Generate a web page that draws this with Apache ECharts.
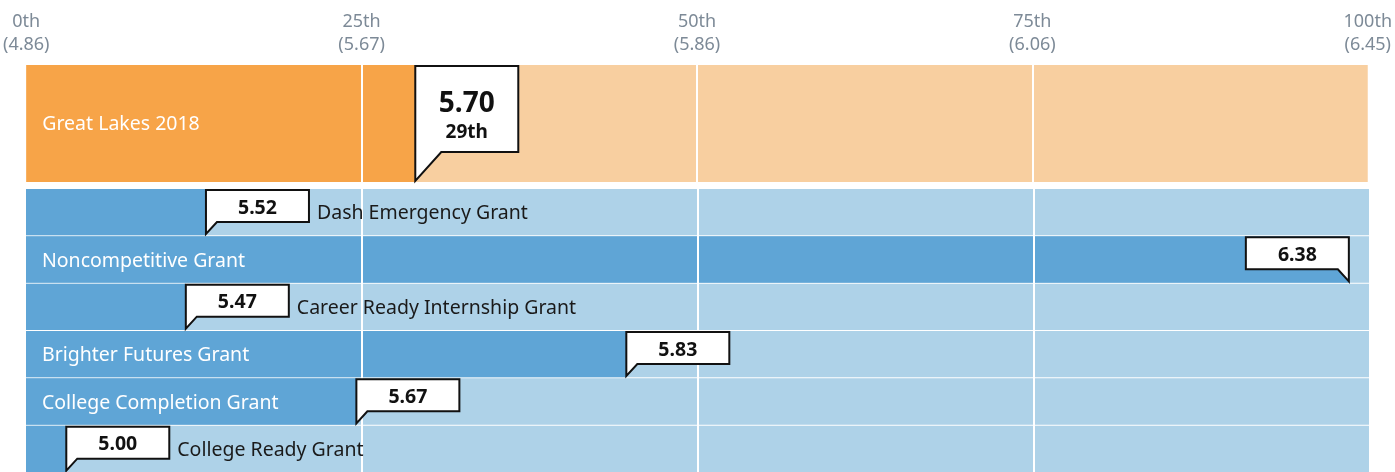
<!DOCTYPE html>
<html>
<head>
<meta charset="utf-8">
<script src="https://cdn.jsdelivr.net/npm/echarts@6/dist/echarts.min.js"></script>
<style>
  html, body { margin: 0; padding: 0; background: #ffffff; }
  #chart { width: 1395px; height: 472px; }
</style>
</head>
<body>
<div id="chart"></div>
<script>
// Percentile scale ticks and the scores they correspond to
const tickPercentiles = [0, 25, 50, 75, 100];
const tickScores = ['4.86', '5.67', '5.86', '6.06', '6.45'];

// Benchmark row
const benchmarkNames = ['Great Lakes 2018'];
const benchmarkScores = [5.70];
const benchmarkPercentiles = [29];

// Grant rows
const grantNames = [
  'Dash Emergency Grant',
  'Noncompetitive Grant',
  'Career Ready Internship Grant',
  'Brighter Futures Grant',
  'College Completion Grant',
  'College Ready Grant'
];
const grantScores = [5.52, 6.38, 5.47, 5.83, 5.67, 5.00];
const grantPercentiles = [13.4, 98.5, 11.9, 44.7, 24.6, 3.0];

const FONT = '"Noto Sans", "Open Sans", sans-serif';
const LABEL_SIZE = 19.5;
const ORANGE = '#f7a448', ORANGE_LIGHT = '#f8cfa0';
const BLUE = '#5fa5d6', BLUE_LIGHT = '#aed2e8';

const measureCtx = document.createElement('canvas').getContext('2d');
function textWidth(str, size, weight) {
  measureCtx.font = (weight || 'normal') + ' ' + size + 'px ' + FONT;
  return measureCtx.measureText(str).width;
}

function ordinal(p) { return Math.round(p) + 'th'; }

// Track + filled bar for one row
function barRenderer(dark, light, gapTop, gapBottom) {
  return function (params, api) {
    const pct = api.value(0), cat = api.value(1);
    const band = api.size([0, 1])[1];
    const start = api.coord([0, cat]);
    const x0 = start[0];
    const yTop = start[1] - band / 2 + gapTop;
    const h = band - gapTop - gapBottom;
    const x100 = api.coord([100, cat])[0];
    const xEnd = api.coord([pct, cat])[0];
    return {
      type: 'group',
      children: [
        { type: 'rect', shape: { x: x0, y: yTop, width: x100 - x0, height: h }, style: { fill: light } },
        { type: 'rect', shape: { x: x0, y: yTop, width: xEnd - x0, height: h }, style: { fill: dark } }
      ]
    };
  };
}

// Speech-bubble polygon whose pointer tip sits at (tx, tipY)
function bubblePoints(tx, boxTop, boxBottom, tipY, w, pw, flip) {
  if (!flip) {
    return [[tx, tipY], [tx, boxTop], [tx + w, boxTop], [tx + w, boxBottom], [tx + pw, boxBottom]];
  }
  return [[tx, tipY], [tx - pw, boxBottom], [tx - w, boxBottom], [tx - w, boxTop], [tx, boxTop]];
}

const BOX_W = 103;

function benchmarkCallout(params, api) {
  const pct = api.value(0), cat = api.value(1);
  const i = params.dataIndex;
  const band = api.size([0, 1])[1];
  const c = api.coord([pct, cat]);
  const x0 = api.coord([0, cat])[0];
  const yTop = c[1] - band / 2;
  const tx = c[0];
  const boxTop = yTop + 1, boxBottom = yTop + 87, tipY = yTop + band - 1;
  const cx = tx + BOX_W / 2;
  return {
    type: 'group',
    children: [
      {
        type: 'text',
        style: {
          x: x0 + 16, y: yTop + band / 2 + 1, text: benchmarkNames[i],
          fill: '#ffffff', font: 'normal ' + LABEL_SIZE + 'px ' + FONT,
          verticalAlign: 'middle', align: 'left'
        }
      },
      {
        type: 'polygon',
        shape: { points: bubblePoints(tx, boxTop, boxBottom, tipY, BOX_W, 26, false) },
        style: { fill: '#ffffff', stroke: '#111111', lineWidth: 2, lineJoin: 'miter' }
      },
      {
        type: 'text',
        style: {
          x: cx, y: yTop + 39, text: benchmarkScores[i].toFixed(2),
          fill: '#111111', font: 'bold 28px ' + FONT, align: 'center', verticalAlign: 'middle'
        }
      },
      {
        type: 'text',
        style: {
          x: cx, y: yTop + 68, text: ordinal(pct),
          fill: '#111111', font: 'bold 19px ' + FONT, align: 'center', verticalAlign: 'middle'
        }
      }
    ]
  };
}

function grantCallout(params, api) {
  const pct = api.value(0), cat = api.value(1);
  const i = params.dataIndex;
  const band = api.size([0, 1])[1];
  const c = api.coord([pct, cat]);
  const x0 = api.coord([0, cat])[0];
  const x100 = api.coord([100, cat])[0];
  const yTop = c[1] - band / 2;
  const tx = c[0];
  const flip = tx + BOX_W > x100;
  const boxTop = yTop + 2, boxBottom = yTop + 34, tipY = yTop + 46;
  const boxLeft = flip ? tx - BOX_W : tx;
  const name = grantNames[i];
  const inside = x0 + 16 + textWidth(name, LABEL_SIZE) + 14 < Math.min(tx, boxLeft);
  const children = [
    {
      type: 'polygon',
      shape: { points: bubblePoints(tx, boxTop, boxBottom, tipY, BOX_W, 11, flip) },
      style: { fill: '#ffffff', stroke: '#111111', lineWidth: 2, lineJoin: 'miter' }
    },
    {
      type: 'text',
      style: {
        x: boxLeft + BOX_W / 2, y: (boxTop + boxBottom) / 2 + 2, text: grantScores[i].toFixed(2),
        fill: '#111111', font: 'bold 19.5px ' + FONT, align: 'center', verticalAlign: 'middle'
      }
    },
    {
      type: 'text',
      style: {
        x: inside ? x0 + 16 : boxLeft + BOX_W + 8,
        y: yTop + band / 2 + 2,
        text: name,
        fill: inside ? '#ffffff' : '#1a1a1a',
        font: 'normal ' + LABEL_SIZE + 'px ' + FONT,
        align: 'left', verticalAlign: 'middle'
      }
    }
  ];
  return { type: 'group', children: children };
}

const axisCommon = {
  type: 'value', min: 0, max: 100, interval: 25,
  axisLine: { show: false }, axisTick: { show: false },
  splitLine: { show: true, showMinLine: false, showMaxLine: false, lineStyle: { color: '#ffffff', width: 2 } },
  z: 3
};

const chart = echarts.init(document.getElementById('chart'), null, { renderer: 'canvas' });
chart.setOption({
  animation: false,
  backgroundColor: '#ffffff',
  grid: [
    { left: 26, right: 26, top: 65, height: 117 },
    { left: 26, right: 26, top: 188, height: 288 }
  ],
  xAxis: [
    Object.assign({}, axisCommon, {
      gridIndex: 0, position: 'top',
      axisLabel: {
        show: true, showMinLabel: true, showMaxLabel: true,
        margin: 9, color: '#7d8a97', fontSize: 18, lineHeight: 23, fontFamily: FONT,
        formatter: function (v) {
          const k = tickPercentiles.indexOf(v);
          return v + 'th\n(' + tickScores[k] + ')';
        }
      }
    }),
    Object.assign({}, axisCommon, { gridIndex: 1, axisLabel: { show: false } })
  ],
  yAxis: [
    { gridIndex: 0, type: 'category', data: benchmarkNames, show: false },
    { gridIndex: 1, type: 'category', data: grantNames, inverse: true, show: false }
  ],
  series: [
    {
      type: 'custom', xAxisIndex: 0, yAxisIndex: 0, z: 1,
      renderItem: barRenderer(ORANGE, ORANGE_LIGHT, 0, 0),
      data: benchmarkPercentiles.map(function (p, i) { return [p, i]; })
    },
    {
      type: 'custom', xAxisIndex: 1, yAxisIndex: 1, z: 1,
      renderItem: barRenderer(BLUE, BLUE_LIGHT, 1, 0),
      data: grantPercentiles.map(function (p, i) { return [p, i]; })
    },
    {
      type: 'custom', xAxisIndex: 0, yAxisIndex: 0, z: 5,
      renderItem: benchmarkCallout,
      data: benchmarkPercentiles.map(function (p, i) { return [p, i]; })
    },
    {
      type: 'custom', xAxisIndex: 1, yAxisIndex: 1, z: 5,
      renderItem: grantCallout,
      data: grantPercentiles.map(function (p, i) { return [p, i]; })
    }
  ]
});
</script>
</body>
</html>
